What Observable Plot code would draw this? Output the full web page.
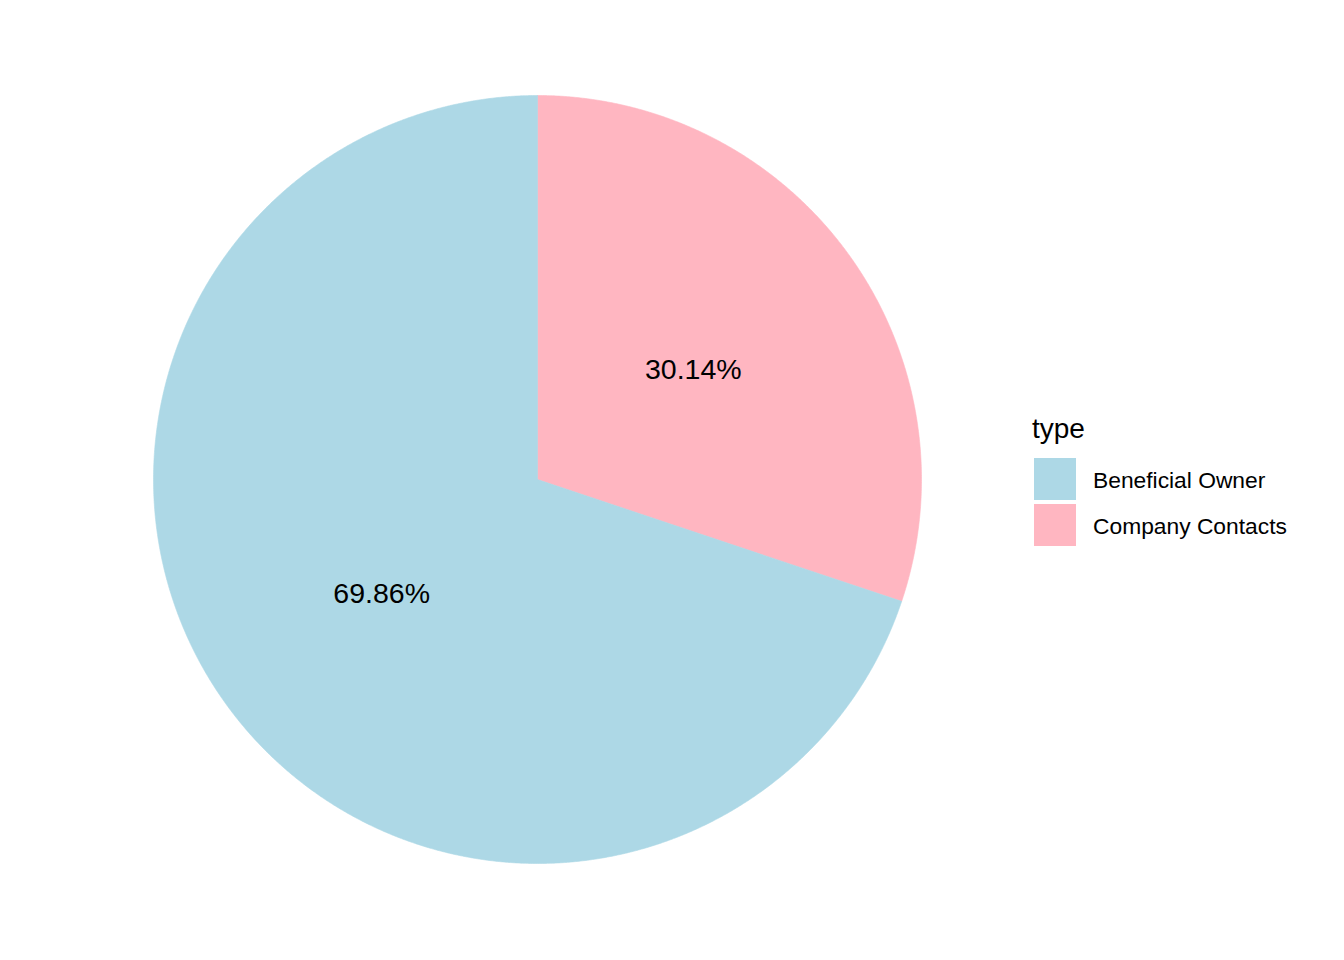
<!DOCTYPE html>
<html>
<head>
<meta charset="utf-8">
<script src="https://cdn.jsdelivr.net/npm/d3@7"></script>
<script src="https://cdn.jsdelivr.net/npm/@observablehq/plot@0.6"></script>
<style>
  html, body { margin: 0; padding: 0; background: #fff; }
  #wrap { position: relative; width: 1344px; height: 960px; font-family: "Liberation Sans", Arial, sans-serif; }
  #legend { position: absolute; left: 1032px; top: 411px; color: #000; }
  #legend .title { font-size: 28px; line-height: 36px; margin-bottom: 9px; }
  #legend .row { display: flex; align-items: center; height: 46px; }
  #legend .sw { width: 42px; height: 42px; margin-left: 2px; margin-right: 17px; }
  #legend .lab { font-size: 22.8px; padding-top: 2px; }
</style>
</head>
<body>
<div id="wrap"></div>
<script>
const categories = ["Beneficial Owner", "Company Contacts"];
const values = [69.86, 30.14];
const colors = ["#ADD8E6", "#FFB6C1"];
const legendTitle = "type";

// Draw order (clockwise from 12 o'clock): Company Contacts first, then Beneficial Owner
const order = [1, 0];
const total = d3.sum(values);
const polys = [];
const labels = [];
let cum = 0;
for (const i of order) {
  const a0 = cum / total * 2 * Math.PI;
  cum += values[i];
  const a1 = cum / total * 2 * Math.PI;
  polys.push({type: categories[i], x: 0, y: 0});
  const n = Math.max(2, Math.ceil((a1 - a0) / (Math.PI / 720)));
  for (let k = 0; k <= n; k++) {
    const a = a0 + (a1 - a0) * k / n;
    polys.push({type: categories[i], x: Math.sin(a), y: Math.cos(a)});
  }
  polys.push({type: categories[i], x: 0, y: 0});
  const am = (a0 + a1) / 2;
  labels.push({type: categories[i], x: 0.5 * Math.sin(am), y: 0.5 * Math.cos(am), text: values[i].toFixed(2) + "%"});
}

const plot = Plot.plot({
  width: 1344,
  height: 960,
  marginLeft: 153,
  marginRight: 423,
  marginTop: 95,
  marginBottom: 97,
  x: {domain: [-1, 1], axis: null},
  y: {domain: [-1, 1], axis: null},
  color: {domain: categories, range: colors},
  style: {fontFamily: "Liberation Sans, Arial, sans-serif", background: "white"},
  marks: [
    Plot.line(polys, {x: "x", y: "y", z: "type", fill: "type", stroke: "type", strokeWidth: 0.6, curve: "linear"}),
    Plot.text(labels, {x: "x", y: "y", text: "text", fontSize: 28.5, dy: 2.5, fill: "black"})
  ]
});

const wrap = document.getElementById("wrap");
wrap.appendChild(plot);

const legend = document.createElement("div");
legend.id = "legend";
let html = `<div class="title">${legendTitle}</div>`;
categories.forEach((c, i) => {
  html += `<div class="row"><div class="sw" style="background:${colors[i]}"></div><div class="lab">${c}</div></div>`;
});
legend.innerHTML = html;
wrap.appendChild(legend);
</script>
</body>
</html>
